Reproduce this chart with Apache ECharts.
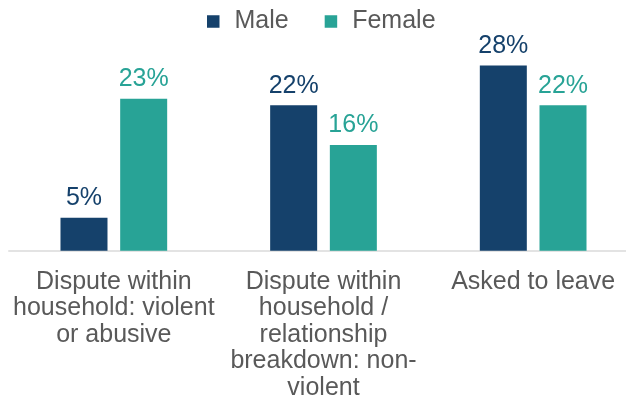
<!DOCTYPE html>
<html>
<head>
<meta charset="utf-8">
<script src="https://cdn.jsdelivr.net/npm/echarts@6/dist/echarts.min.js"></script>
<style>
  html, body { margin: 0; padding: 0; background: #fff; }
  #chart { width: 626px; height: 407px; }
</style>
</head>
<body>
<div id="chart"></div>
<script>
// Reasons for leaving last settled home, by gender (%)
const categories = [
  'Dispute within\nhousehold: violent\nor abusive',
  'Dispute within\nhousehold /\nrelationship\nbreakdown: non-\nviolent',
  'Asked to leave'
];
const seriesNames = ['Male', 'Female'];
const maleValues = [5, 22, 28];
const femaleValues = [23, 16, 22];

const FONT = '"Liberation Sans", Arial, sans-serif';
const TEXT = '#595959';
const MALE = '#15416b';
const FEMALE = '#28a396';

const chart = echarts.init(document.getElementById('chart'), null, { renderer: 'canvas' });

function barLabel(color) {
  return {
    show: true,
    position: 'top',
    distance: 7,
    formatter: '{c}%',
    color: color,
    fontFamily: FONT,
    fontSize: 25
  };
}

chart.setOption({
  animation: false,
  backgroundColor: '#ffffff',
  legend: {
    data: seriesNames,
    left: 202,
    top: 4,
    icon: 'rect',
    itemWidth: 12.5,
    itemHeight: 12.5,
    itemGap: 36,
    textStyle: {
      color: TEXT,
      fontFamily: FONT,
      fontSize: 25,
      padding: [0, 0, 0, 10]
    }
  },
  grid: {
    left: 9,
    width: 629,
    top: 52.4,
    bottom: 156.3,
    containLabel: false,
    outerBoundsMode: 'none'
  },
  xAxis: {
    type: 'category',
    data: categories,
    axisLine: { show: true, lineStyle: { color: '#e3e3e3', width: 2 } },
    axisTick: { show: false },
    axisLabel: {
      interval: 0,
      margin: 18,
      color: TEXT,
      fontFamily: FONT,
      fontSize: 25,
      lineHeight: 26.5,
      align: 'center'
    }
  },
  yAxis: {
    type: 'value',
    min: 0,
    max: 30,
    show: false,
    splitLine: { show: false }
  },
  series: [
    {
      name: 'Male',
      type: 'bar',
      data: maleValues,
      barWidth: 47,
      barGap: '27%',
      itemStyle: { color: MALE },
      label: barLabel(MALE)
    },
    {
      name: 'Female',
      type: 'bar',
      data: femaleValues,
      barWidth: 47,
      barGap: '27%',
      itemStyle: { color: FEMALE },
      label: barLabel(FEMALE)
    }
  ]
});
</script>
</body>
</html>
